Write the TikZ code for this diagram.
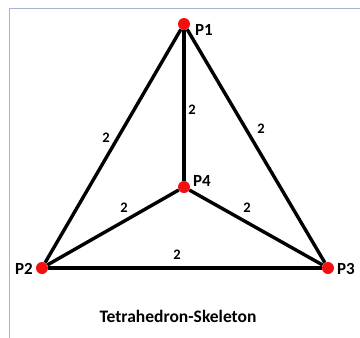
\documentclass[tikz,border=0pt]{standalone}
\usepackage{fontspec}
\setmainfont{Carlito}
\usepackage{xcolor}
\definecolor{frameLine}{HTML}{A3B5D1}
\definecolor{dotRed}   {HTML}{F20F0F}
\usetikzlibrary{positioning}
\tikzset{
    vertex/.style={circle, fill=dotRed, minimum size=12pt, inner sep=0pt},
    vlabel/.style={font=\bfseries\fontsize{17}{19}\selectfont, inner sep=1pt},
    wlabel/.style={font=\bfseries\fontsize{14.5}{16}\selectfont, inner sep=1pt},
    skedge/.style={-, line width=3.4pt},
}

\begin{document}
\begin{tikzpicture}[x=1pt, y=-1pt]
\useasboundingbox (0,0) rectangle (360,338);
% --- frame ---
\draw[frameLine, line width=1.8pt] (9.5,338) -- (9.5,8.5) -- (360,8.5);

% --- vertices ---
\node[vertex] (p1) at (184,24) {};
\node[vertex] (p2) at (42,268) {};
\node[vertex] (p3) at (328,268) {};
\node[vertex] (p4) at (184,187) {};

% --- edges ---
\draw[skedge] (p1) -- (p2);
\draw[skedge] (p1) -- (p3);
\draw[skedge] (p1) -- (p4);
\draw[skedge] (p2) -- (p3);
\draw[skedge] (p2) -- (p4);
\draw[skedge] (p4) -- (p3);

% --- vertex names ---
\node[vlabel] (n1) at (204,30) {P1};
\node[vlabel] (n2) at (24,269) {P2};
\node[vlabel] (n3) at (346,269) {P3};
\node[vlabel] (n4) at (202,181) {P4};

% --- weights ---
\node[wlabel] (w14) at (192,110) {2};
\node[wlabel] (w12) at (106,138) {2};
\node[wlabel] (w13) at (261,129) {2};
\node[wlabel] (w24) at (124,208) {2};
\node[wlabel] (w43) at (247,208) {2};
\node[wlabel] (w23) at (177,255) {2};

\node[font=\bfseries\fontsize{17.5}{19}\selectfont] (title) at (178,316)
    {Tetrahedron-Skeleton};
\end{tikzpicture}
\end{document}
